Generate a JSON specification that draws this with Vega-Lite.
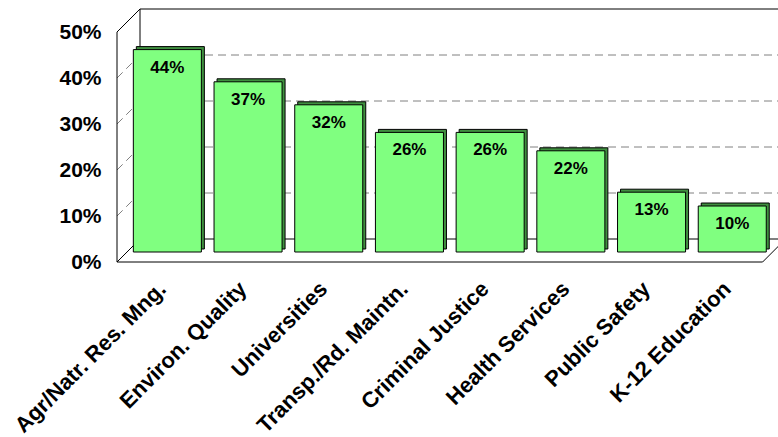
{
  "$schema": "https://vega.github.io/schema/vega-lite/v6.json",
  "width": 661,
  "height": 254,
  "autosize": "none",
  "padding": {"left": 117, "top": 8, "right": 0, "bottom": 175},
  "background": "white",
  "config": {
    "view": {"stroke": null},
    "font": "Liberation Sans",
    "axis": {"labelFont": "Liberation Sans", "labelFontWeight": "bold", "labelColor": "black"}
  },
  "datasets": {
    "bars": [
      {"area": "Agr/Natr. Res. Mng.", "share": 0.44},
      {"area": "Environ. Quality", "share": 0.37},
      {"area": "Universities", "share": 0.32},
      {"area": "Transp./Rd. Maintn.", "share": 0.26},
      {"area": "Criminal Justice", "share": 0.26},
      {"area": "Health Services", "share": 0.22},
      {"area": "Public Safety", "share": 0.13},
      {"area": "K-12 Education", "share": 0.10}
    ],
    "grid": [
      {"seg": "b10", "side": "left", "depth": 1, "v": 0.1}, {"seg": "b10", "side": "right", "depth": 1, "v": 0.1},
      {"seg": "b20", "side": "left", "depth": 1, "v": 0.2}, {"seg": "b20", "side": "right", "depth": 1, "v": 0.2},
      {"seg": "b30", "side": "left", "depth": 1, "v": 0.3}, {"seg": "b30", "side": "right", "depth": 1, "v": 0.3},
      {"seg": "b40", "side": "left", "depth": 1, "v": 0.4}, {"seg": "b40", "side": "right", "depth": 1, "v": 0.4},
      {"seg": "l10", "side": "left", "depth": 0, "v": 0.1}, {"seg": "l10", "side": "left", "depth": 1, "v": 0.1},
      {"seg": "l20", "side": "left", "depth": 0, "v": 0.2}, {"seg": "l20", "side": "left", "depth": 1, "v": 0.2},
      {"seg": "l30", "side": "left", "depth": 0, "v": 0.3}, {"seg": "l30", "side": "left", "depth": 1, "v": 0.3},
      {"seg": "l40", "side": "left", "depth": 0, "v": 0.4}, {"seg": "l40", "side": "left", "depth": 1, "v": 0.4}
    ],
    "frame": [
      {"seg": "backtop", "side": "left", "depth": 1, "v": 0.5}, {"seg": "backtop", "side": "right", "depth": 1, "v": 0.5},
      {"seg": "backbottom", "side": "left", "depth": 1, "v": 0}, {"seg": "backbottom", "side": "right", "depth": 1, "v": 0},
      {"seg": "backleft", "side": "left", "depth": 1, "v": 0}, {"seg": "backleft", "side": "left", "depth": 1, "v": 0.5},
      {"seg": "frontleft", "side": "left", "depth": 0, "v": 0}, {"seg": "frontleft", "side": "left", "depth": 0, "v": 0.5},
      {"seg": "topleft", "side": "left", "depth": 0, "v": 0.5}, {"seg": "topleft", "side": "left", "depth": 1, "v": 0.5},
      {"seg": "bottomleft", "side": "left", "depth": 0, "v": 0}, {"seg": "bottomleft", "side": "left", "depth": 1, "v": 0},
      {"seg": "floorfront", "side": "left", "depth": 0, "v": 0}, {"seg": "floorfront", "side": "right", "depth": 0, "v": 0},
      {"seg": "floorright", "side": "right", "depth": 0, "v": 0}, {"seg": "floorright", "side": "right", "depth": 1, "v": 0}
    ]
  },
  "resolve": {
    "scale": {"x": "independent", "y": "independent", "xOffset": "independent", "yOffset": "independent"},
    "axis": {"x": "independent", "y": "independent"}
  },
  "layer": [
    {
      "data": {"name": "grid"},
      "mark": {"type": "line", "stroke": "#808080", "strokeWidth": 1, "strokeDash": [8, 5]},
      "encoding": {
        "x": {"field": "side", "type": "nominal", "scale": {"type": "point", "domain": ["left", "right"], "range": [0, 645.6], "padding": 0}, "axis": null},
        "xOffset": {"field": "depth", "type": "quantitative", "scale": {"domain": [0, 1], "range": [0, 23]}},
        "y": {"field": "v", "type": "ordinal", "scale": {"type": "point", "domain": [0, 0.1, 0.2, 0.3, 0.4, 0.5], "range": [254, 24], "padding": 0}, "axis": null},
        "yOffset": {"field": "depth", "type": "quantitative", "scale": {"domain": [0, 1], "range": [0, -23]}},
        "detail": {"field": "seg"},
        "order": {"value": null}
      }
    },
    {
      "data": {"name": "frame"},
      "mark": {"type": "line", "stroke": "black", "strokeWidth": 1},
      "encoding": {
        "x": {"field": "side", "type": "nominal", "scale": {"type": "point", "domain": ["left", "right"], "range": [0, 645.6], "padding": 0}, "axis": null},
        "xOffset": {"field": "depth", "type": "quantitative", "scale": {"domain": [0, 1], "range": [0, 23]}},
        "y": {"field": "v", "type": "ordinal", "scale": {"type": "point", "domain": [0, 0.1, 0.2, 0.3, 0.4, 0.5], "range": [254, 24], "padding": 0},
          "axis": {"orient": "left", "labelExpr": "format(datum.value, '.0%')", "labelFontSize": 21, "domain": false, "ticks": false, "grid": false, "labelPadding": 16, "title": null}},
        "yOffset": {"field": "depth", "type": "quantitative", "scale": {"domain": [0, 1], "range": [0, -23]}},
        "detail": {"field": "seg"},
        "order": {"value": null}
      }
    },
    {
      "data": {"name": "bars"},
      "mark": {"type": "bar", "fill": "#3f8f3f", "stroke": "black", "strokeWidth": 1},
      "encoding": {
        "x": {"field": "area", "type": "nominal", "sort": null, "scale": {"range": [13, 658.6], "paddingInner": 0.157, "paddingOuter": 0.0785}, "axis": null},
        "y": {"field": "share", "type": "quantitative", "scale": {"domain": [0, 0.5], "range": [241, 11], "nice": false}, "axis": null}
      }
    },
    {
      "data": {"name": "bars"},
      "mark": {"type": "bar", "fill": "#80FF80", "stroke": "black", "strokeWidth": 1},
      "encoding": {
        "x": {"field": "area", "type": "nominal", "sort": null, "scale": {"range": [10, 655.6], "paddingInner": 0.157, "paddingOuter": 0.0785},
          "axis": {"orient": "bottom", "labelAngle": -45, "labelAlign": "right", "labelBaseline": "middle", "labelFontSize": 22, "labelLimit": 0, "domain": false, "ticks": false, "labelPadding": 23, "labelOffset": -5, "title": null, "labelOverlap": false}},
        "y": {"field": "share", "type": "quantitative", "scale": {"domain": [0, 0.5], "range": [244, 14], "nice": false}, "axis": null}
      }
    },
    {
      "data": {"name": "bars"},
      "mark": {"type": "text", "dy": 18, "baseline": "middle", "align": "center", "fontSize": 17, "fontWeight": "bold", "color": "black"},
      "encoding": {
        "x": {"field": "area", "type": "nominal", "sort": null, "scale": {"range": [10, 655.6], "paddingInner": 0.157, "paddingOuter": 0.0785}, "axis": null},
        "y": {"field": "share", "type": "quantitative", "scale": {"domain": [0, 0.5], "range": [244, 14], "nice": false}, "axis": null},
        "text": {"field": "share", "type": "quantitative", "format": ".0%"}
      }
    }
  ]
}
